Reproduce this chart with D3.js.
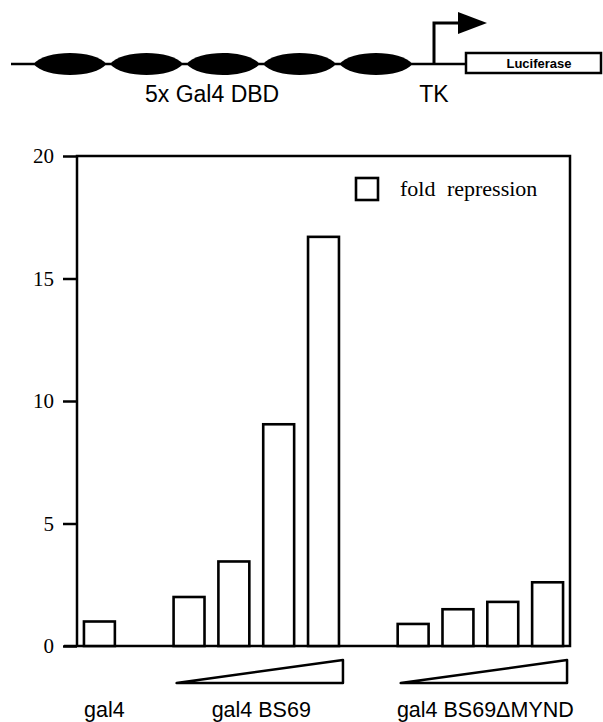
<!DOCTYPE html>
<html>
<head>
<meta charset="utf-8">
<script src="https://cdn.jsdelivr.net/npm/d3@7"></script>
<style>
  html, body { margin: 0; padding: 0; background: #fff; }
  svg { display: block; }
</style>
</head>
<body>
<svg id="chart" width="603" height="722"></svg>
<script>
// ---- data ----
const slots = ["gal4", "gap1", "BS69-1", "BS69-2", "BS69-3", "BS69-4", "gap2", "MYND-1", "MYND-2", "MYND-3", "MYND-4"];
const gal4Keys = ["gal4"];
const gal4Values = [1.0];
const bs69Keys = ["BS69-1", "BS69-2", "BS69-3", "BS69-4"];
const bs69Values = [2.0, 3.45, 9.05, 16.7];
const myndKeys = ["MYND-1", "MYND-2", "MYND-3", "MYND-4"];
const myndValues = [0.9, 1.5, 1.8, 2.6];
const groupLabels = ["gal4", "gal4 BS69", "gal4 BS69\u0394MYND"];
const yTicks = [0, 5, 10, 15, 20];
const legendLabel = "fold repression";
const bindingSites = [1, 2, 3, 4, 5];

const svg = d3.select("#chart");
const plotLeft = 77, plotRight = 570, plotTop = 156, plotBottom = 646;

const x = d3.scaleBand().domain(slots).range([plotLeft, plotRight]).paddingInner(0.31).paddingOuter(0.155);
const y = d3.scaleLinear().domain([0, 20]).range([plotBottom, plotTop]);

// ---- promoter diagram ----
const dg = svg.append("g");
const lineY = 64;
const boxX0 = 466, boxX1 = 602;
dg.append("line").attr("x1", 11).attr("x2", boxX0).attr("y1", lineY).attr("y2", lineY)
  .attr("stroke", "#000").attr("stroke-width", 2.5);
const ex = d3.scaleLinear().domain([1, 5]).range([70, 376]);
const rx = 36.5, ry = 11;
dg.selectAll("path.site").data(bindingSites).join("path")
  .attr("class", "site")
  .attr("d", d => {
    const cx = ex(d), x0 = cx - rx, x1 = cx + rx, h = ry / 0.75, c = 0.16 * 2 * rx;
    return `M${x0},${lineY} C${x0 + c},${lineY - h} ${x1 - c},${lineY - h} ${x1},${lineY} ` +
           `C${x1 - c},${lineY + h} ${x0 + c},${lineY + h} ${x0},${lineY}Z`;
  })
  .attr("fill", "#000");
// promoter arrow
dg.append("path").attr("d", `M434,${lineY} L434,23 L460,23`)
  .attr("fill", "none").attr("stroke", "#000").attr("stroke-width", 3);
dg.append("path").attr("d", "M458,12 L487,23 L458,34 Z").attr("fill", "#000");
// luciferase box
dg.append("rect").attr("x", boxX0).attr("y", 53).attr("width", boxX1 - boxX0 - 1).attr("height", 20)
  .attr("fill", "#fff").attr("stroke", "#000").attr("stroke-width", 2.5);
dg.append("text").attr("x", (boxX0 + boxX1) / 2 + 5).attr("y", 68).attr("text-anchor", "middle")
  .attr("font-family", "Liberation Sans, Arial, sans-serif").attr("font-size", 13).attr("font-weight", "bold")
  .text("Luciferase");
dg.append("text").attr("x", 145).attr("y", 102)
  .attr("font-family", "Liberation Sans, Arial, sans-serif").attr("font-size", 23)
  .text("5x Gal4 DBD");
dg.append("text").attr("x", 434).attr("y", 102).attr("text-anchor", "middle")
  .attr("font-family", "Liberation Sans, Arial, sans-serif").attr("font-size", 23)
  .text("TK");

// ---- y axis ----
const yAxis = d3.axisLeft(y).tickValues(yTicks).tickSize(14).tickPadding(9);
const ga = svg.append("g").attr("transform", `translate(${plotLeft},0)`).call(yAxis);
ga.select(".domain").remove();
ga.selectAll(".tick line").attr("stroke", "#000").attr("stroke-width", 2.5);
ga.selectAll(".tick text").attr("font-family", "Liberation Serif, Times New Roman, serif")
  .attr("font-size", 21).attr("fill", "#000");

// frame
svg.append("path")
  .attr("d", `M${plotLeft},${plotBottom} L${plotLeft},${plotTop} L${plotRight},${plotTop} L${plotRight},${plotBottom} L${plotLeft - 13},${plotBottom}`)
  .attr("fill", "none").attr("stroke", "#000").attr("stroke-width", 2.5).attr("stroke-linejoin", "miter");

// ---- bars ----
const bars = [];
gal4Keys.forEach((k, i) => bars.push({ k, v: gal4Values[i] }));
bs69Keys.forEach((k, i) => bars.push({ k, v: bs69Values[i] }));
myndKeys.forEach((k, i) => bars.push({ k, v: myndValues[i] }));
svg.append("g").selectAll("rect").data(bars).join("rect")
  .attr("x", d => x(d.k))
  .attr("y", d => y(d.v))
  .attr("width", x.bandwidth())
  .attr("height", d => y(0) - y(d.v))
  .attr("fill", "#fff").attr("stroke", "#000").attr("stroke-width", 2.6);

// ---- wedges ----
function wedge(keys) {
  const x0 = x(keys[0]) + 3, x1 = x(keys[keys.length - 1]) + x.bandwidth() + 4;
  const yTop = plotBottom + 14, yBot = plotBottom + 37;
  svg.append("path").attr("d", `M${x0},${yBot} L${x1},${yTop} L${x1},${yBot} Z`)
    .attr("fill", "#fff").attr("stroke", "#000").attr("stroke-width", 2.5).attr("stroke-linejoin", "round");
}
wedge(bs69Keys);
wedge(myndKeys);

// ---- group labels ----
const groups = [gal4Keys, bs69Keys, myndKeys];
svg.append("g").selectAll("text").data(groups).join("text")
  .attr("x", g => d3.mean(g, k => x(k) + x.bandwidth() / 2) + 5)
  .attr("y", 717)
  .attr("text-anchor", "middle")
  .attr("font-family", "Liberation Sans, Arial, sans-serif").attr("font-size", 21.5)
  .text((g, i) => groupLabels[i]);

// ---- legend ----
svg.append("rect").attr("x", 356).attr("y", 178).attr("width", 22).attr("height", 22)
  .attr("fill", "#fff").attr("stroke", "#000").attr("stroke-width", 2.6);
svg.append("text").attr("x", 400).attr("y", 196)
  .attr("font-family", "Liberation Serif, Times New Roman, serif").attr("font-size", 22)
  .attr("word-spacing", 6)
  .text(legendLabel);
</script>
</body>
</html>
